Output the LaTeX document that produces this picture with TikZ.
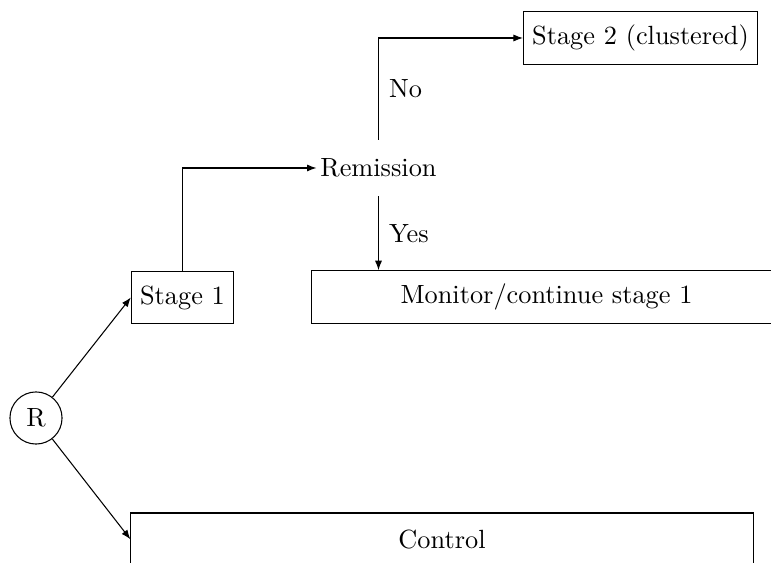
\documentclass[tikz,border=0pt]{standalone}
\usetikzlibrary{arrows.meta}
\begin{document}
\begin{tikzpicture}[
  x=0.38pt, y=-0.38pt,
  >={Latex[length=3.6pt,width=2.7pt]},
  box/.style={draw, minimum height=2em, inner sep=3.33pt},
  round/.style={draw, circle, minimum size=19.8pt, inner sep=0pt},
  plain/.style={inner xsep=1.3pt, inner ysep=7pt},
  lbl/.style={right, inner sep=3.8pt}
]
\useasboundingbox (0,0) rectangle (771,563);

% nodes
\node[round] (R) at (36,418) {R};
\node[box] (s1) at (182.5,297.5) {Stage 1};
\node[plain] (rem) at (378.5,168) {Remission};
\node[box] (s2) at (640.5,38) {Stage 2 (clustered)};
\node[box, minimum width=178.6pt] (mon) at (546.5,297) {Monitor/continue stage 1};
\node[box, minimum width=236.4pt] (ctl) at (442,539.3) {Control};

% connectors
\draw[->] (R) -- (s1.west);
\draw[->] (R) -- (ctl.west);
\draw[->] (s1.north) |- (rem.west);
\draw[->] (rem.north) |- node[lbl, pos=0.25] {No} (s2.west);
\draw[->] (rem.south) -- node[lbl] {Yes} (rem.south |- mon.north);
\end{tikzpicture}
\end{document}
